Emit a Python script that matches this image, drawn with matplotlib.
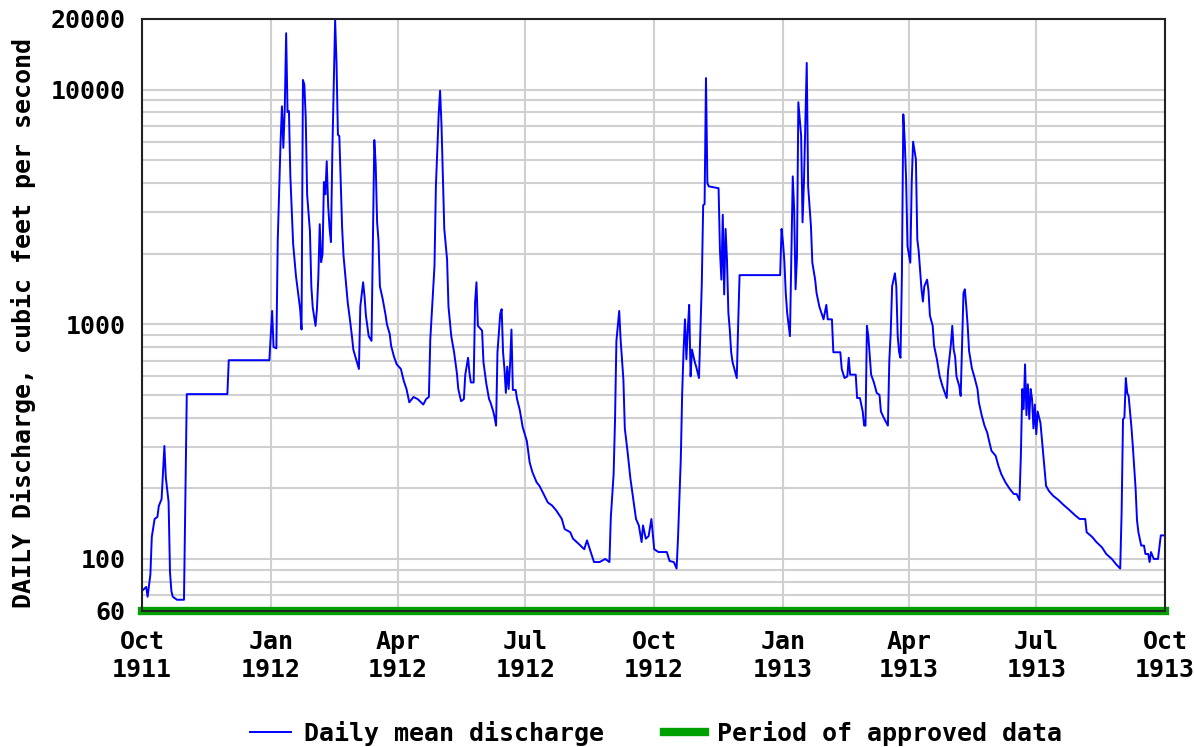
import numpy as np
import pandas as pd
import matplotlib
matplotlib.use('Agg')
import matplotlib.pyplot as plt
import matplotlib.ticker as mticker
from matplotlib.lines import Line2D

start = pd.Timestamp('1911-10-01')
end = pd.Timestamp('1913-10-01')

# days since 1 Oct 1911 and daily mean discharge (cfs)
days = [0, 3, 4, 6, 7, 9, 11, 12, 14, 15, 16, 17, 19, 20, 21, 22, 25, 30, 31, 32,
        61, 62, 91, 92, 93, 94, 96, 97, 99, 100, 101, 102, 103, 104, 105, 106, 108, 110,
        112, 113, 114, 115, 116, 117, 118, 120, 121, 122, 124, 125, 126, 127, 128, 129,
        130, 131, 132, 133, 134, 135, 136, 138, 139, 140, 141, 143, 144, 146, 147, 149,
        150, 151, 153, 155, 156, 158, 159, 160, 162, 164, 165, 166, 167, 168, 169, 170,
        172, 174, 175, 177, 178, 180, 182, 185, 187, 189, 191, 194, 197, 201, 203, 205,
        206, 207, 209, 210, 212, 213, 214, 216, 218, 219, 221, 223, 225, 226, 228, 230,
        231, 233, 234, 235, 237, 238, 239, 240, 243, 244, 246, 248, 249, 251, 252, 253,
        254, 256, 257, 258, 259, 260, 261, 262, 263, 264, 265, 267, 268, 270, 272, 275,
        277, 279, 282, 284, 287, 290, 293, 296, 300, 302, 306, 308, 312, 316, 318, 320,
        323, 327, 331, 334, 335, 337, 338, 339, 341, 342, 344, 345, 347, 349, 351, 353,
        355, 357, 358, 360, 362, 364, 366, 369, 375, 377, 380, 382, 383, 384, 385, 386,
        387, 388, 389, 390, 391, 392, 393, 395, 396, 398, 399, 400, 401, 402, 403, 404,
        405, 412, 413, 414, 415, 416, 417, 418, 419, 420, 421, 422, 424, 425, 426, 427,
        456, 457, 458, 459, 460, 461, 463, 464, 465, 466, 467, 468, 469, 471, 472, 473,
        474, 475, 476, 478, 479, 481, 482, 484, 487, 489, 490, 493, 494, 499, 500, 502,
        504, 505, 506, 510, 511, 513, 515, 516, 517, 518, 519, 521, 523, 525, 527, 528,
        530, 532, 533, 534, 535, 536, 538, 539, 540, 541, 542, 543, 544, 545, 546, 547,
        549, 550, 551, 553, 554, 555, 557, 558, 559, 561, 562, 563, 565, 566, 568, 570,
        572, 574, 575, 576, 578, 579, 580, 581, 582, 584, 585, 586, 587, 588, 589, 590,
        591, 593, 595, 597, 598, 600, 602, 604, 605, 607, 610, 612, 614, 617, 620, 623,
        625, 627, 628, 629, 630, 631, 632, 633, 634, 635, 636, 637, 638, 639, 640, 642,
        644, 646, 648, 651, 655, 658, 662, 667, 670, 674, 675, 679, 682, 686, 689, 693,
        696, 699, 700, 701, 702, 703, 704, 705, 707, 708, 710, 711, 712, 714, 716, 717,
        719, 720, 721, 723, 726, 727, 728, 730]
flow = [73, 76, 69, 86, 124, 148, 151, 168, 180, 232, 303, 223, 175, 88, 73, 69, 67, 67, 186, 504,
        504, 703, 703, 890, 1140, 800, 790, 2280, 5950, 8490, 5650, 8250, 17400, 8020, 8100, 4280, 2200, 1610,
        1300, 1160, 950, 11000, 10500, 7600, 3570, 2490, 1450, 1180, 985, 1160, 1590, 2670, 1840, 1990,
        4040, 3580, 4950, 3230, 2580, 2240, 5400, 19800, 12950, 6420, 6340, 2580, 1960, 1450, 1240, 1000,
        890, 780, 710, 645, 1190, 1510, 1320, 1090, 890, 850, 2300, 6100, 4800, 2720, 2270, 1450,
        1280, 1100, 1000, 910, 810, 730, 675, 645, 575, 530, 465, 490, 480, 455, 480, 490,
        860, 1090, 1770, 3860, 7840, 9900, 7100, 2550, 1890, 1190, 890, 760, 620, 530, 470, 480,
        610, 720, 620, 565, 565, 1240, 1510, 985, 940, 690, 560, 480, 465, 425, 400, 370,
        760, 1110, 1160, 760, 645, 510, 660, 530, 675, 950, 525, 525, 480, 430, 365, 318,
        258, 234, 212, 205, 189, 174, 169, 161, 148, 134, 130, 122, 116, 110, 120, 110,
        97, 97, 100, 97, 150, 230, 390, 850, 1140, 860, 580, 360, 285, 220, 180, 148,
        139, 118, 139, 122, 125, 148, 110, 107, 107, 98, 97, 91, 122, 180, 266, 510,
        780, 1050, 710, 950, 1210, 600, 780, 690, 660, 590, 920, 1480, 3220, 3250, 11200, 4000,
        3870, 3800, 2050, 1550, 2930, 1340, 2550, 1890, 1120, 950, 760, 690, 620, 590, 1000, 1620,
        1620, 2550, 2240, 1860, 1360, 1120, 890, 1920, 4270, 3090, 1410, 1920, 8840, 6340, 2720, 4020,
        7250, 13000, 3870, 2620, 1830, 1550, 1360, 1190, 1050, 1210, 1050, 1050, 760, 760, 645, 590,
        600, 720, 610, 610, 485, 485, 425, 370, 370, 985, 890, 610, 565, 510, 500, 425,
        400, 380, 370, 700, 920, 1450, 1650, 1450, 890, 760, 720, 1630, 7850, 6100, 4150, 2150,
        1830, 4020, 6000, 5050, 2300, 2050, 1410, 1250, 1450, 1550, 1390, 1090, 985, 810, 710, 600,
        545, 505, 485, 635, 820, 985, 780, 730, 600, 545, 495, 810, 1360, 1410, 1190, 985,
        770, 650, 590, 530, 465, 410, 370, 345, 324, 289, 275, 249, 230, 212, 199, 189,
        189, 178, 275, 530, 435, 675, 410, 555, 395, 530, 480, 360, 455, 340, 425, 380,
        280, 205, 195, 186, 178, 171, 163, 153, 148, 148, 130, 124, 118, 112, 105, 100,
        95, 91, 158, 394, 400, 590, 510, 495, 365, 303, 199, 146, 130, 114, 114, 105,
        105, 97, 107, 100, 100, 112, 126, 126]

tick_dates = ['1911-10-01', '1912-01-01', '1912-04-01', '1912-07-01', '1912-10-01',
              '1913-01-01', '1913-04-01', '1913-07-01', '1913-10-01']
tick_labels = ['Oct\n1911', 'Jan\n1912', 'Apr\n1912', 'Jul\n1912', 'Oct\n1912',
               'Jan\n1913', 'Apr\n1913', 'Jul\n1913', 'Oct\n1913']
y_major = [60, 100, 1000, 10000, 20000]
y_minor = [70, 80, 90, 200, 300, 400, 500, 600, 700, 800, 900,
           2000, 3000, 4000, 5000, 6000, 7000, 8000, 9000]

plt.rcParams['font.family'] = 'DejaVu Sans Mono'
plt.rcParams['font.weight'] = 'bold'
plt.rcParams['font.size'] = 18

fig = plt.figure(figsize=(11.94, 7.47), dpi=100)
ax = fig.add_axes([142 / 1194, 1 - 611 / 747, (1165 - 142) / 1194, (611 - 19) / 747])

dates = start + pd.to_timedelta(days, unit='D')
ax.plot(dates, flow, color='#0000ff', lw=1.4, zorder=3)
# approved-data bar along the bottom
ax.plot([start, end], [60, 60], color='#00a000', lw=6, solid_capstyle='projecting',
        clip_on=False, zorder=4)

ax.set_yscale('log')
ax.set_ylim(60, 20000)
ax.set_xlim(start, end)
ax.yaxis.set_major_locator(mticker.FixedLocator(y_major))
ax.yaxis.set_major_formatter(mticker.FixedFormatter([str(v) for v in y_major]))
ax.yaxis.set_minor_locator(mticker.FixedLocator(y_minor))
ax.yaxis.set_minor_formatter(mticker.NullFormatter())
ax.set_xticks(pd.to_datetime(tick_dates))
ax.set_xticklabels(tick_labels)

ax.set_axisbelow(True)
ax.grid(which='both', axis='y', color='#d0d0d0', lw=1.5)
ax.grid(which='major', axis='x', color='#d0d0d0', lw=1.5)
ax.tick_params(which='both', length=0)
ax.tick_params(axis='y', pad=12)
ax.tick_params(axis='x', pad=14)
for s in ax.spines.values():
    s.set_linewidth(1.5)
    s.set_color('#222222')
    s.set_zorder(5)

fig.text(24 / 1194, 1 - 608 / 747, 'DAILY Discharge, cubic feet per second',
         rotation=90, ha='center', va='bottom')

handles = [Line2D([], [], color='#0000ff', lw=1.4), Line2D([], [], color='#00a000', lw=6)]
fig.legend(handles, ['Daily mean discharge', 'Period of approved data'],
           loc='center', bbox_to_anchor=(656 / 1194, 1 - 733 / 747), ncol=2,
           frameon=False, handlelength=1.65, handletextpad=0.5, columnspacing=2.4)

fig.savefig('out.png', dpi=100)
